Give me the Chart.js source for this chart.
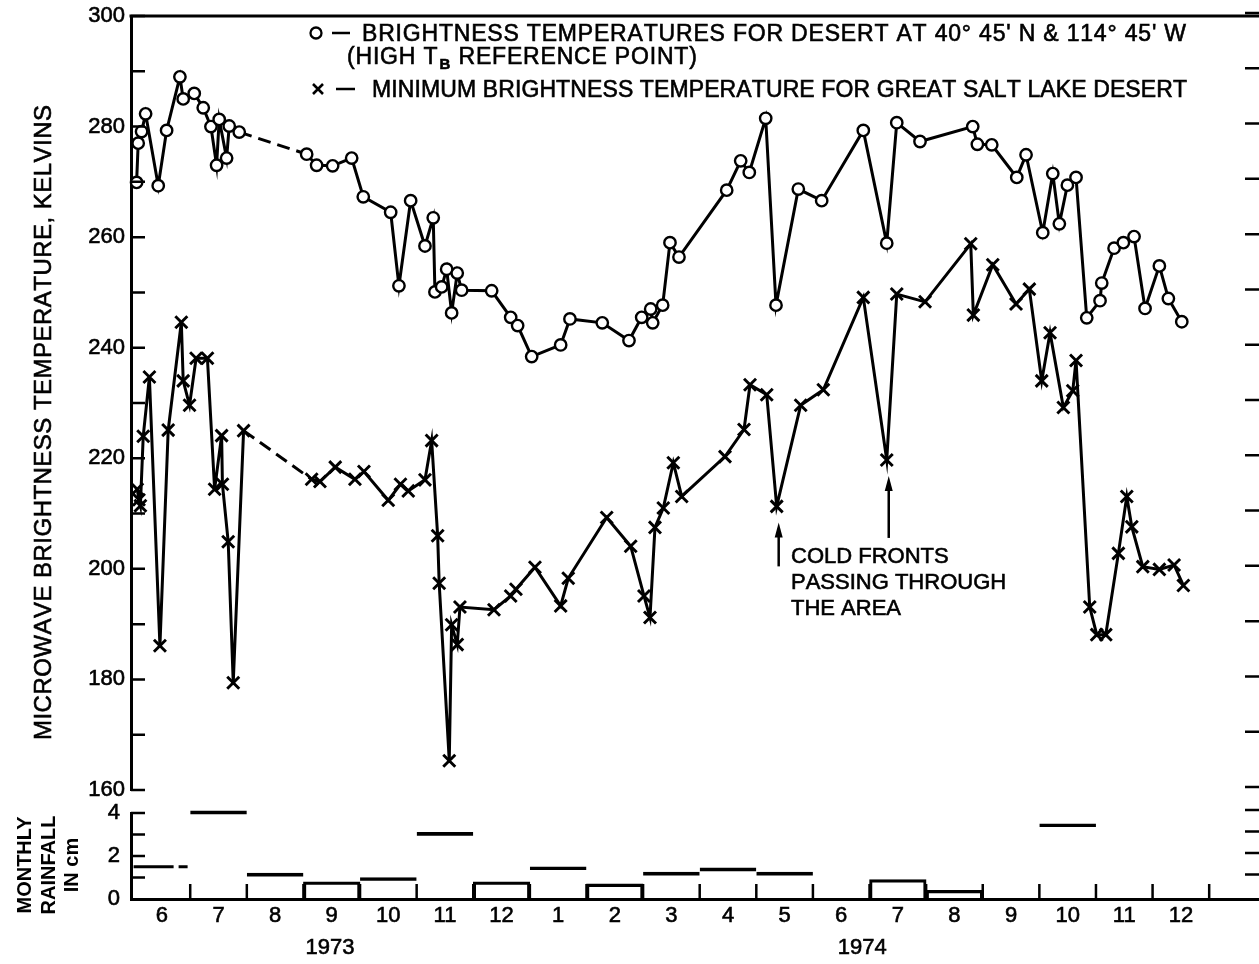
<!DOCTYPE html>
<html>
<head>
<meta charset="utf-8">
<script src="https://cdn.jsdelivr.net/npm/chart.js@4/dist/chart.umd.min.js"></script>
<style>
  html, body { margin: 0; padding: 0; background: #fff; overflow: hidden; }
  #wrap { position: relative; width: 1259px; height: 964px; }
  canvas { position: absolute; left: 0; }
  #main { top: 0; }
  #rain { top: 800px; }
</style>
</head>
<body>
<div id="wrap">
  <canvas id="main" width="1259" height="800"></canvas>
  <canvas id="rain" width="1259" height="164"></canvas>
</div>
<script>
// Time axis in months: 0 = 1 June 1973, one unit per month.

// High-TB reference point (desert at 40°45' N, 114°45' W)
const refMonth = [0.053, 0.081, 0.141, 0.212, 0.435, 0.583, 0.818, 0.876, 1.071, 1.230,
  1.366, 1.466, 1.512, 1.643, 1.689, 1.866, 3.057, 3.233, 3.516, 3.852,
  4.057, 4.541, 4.687, 4.894, 5.147, 5.293, 5.323, 5.442, 5.530, 5.618,
  5.717, 5.795, 6.325, 6.661, 6.784, 7.032, 7.544, 7.708, 8.279, 8.751,
  8.975, 9.134, 9.170, 9.346, 9.475, 9.634, 10.477, 10.724, 10.876, 11.166,
  11.348, 11.742, 12.155, 12.890, 13.304, 13.481, 13.892, 14.823, 14.905, 15.159,
  15.601, 15.765, 16.060, 16.237, 16.353, 16.495, 16.648, 16.837, 17.072, 17.102,
  17.320, 17.484, 17.673, 17.867, 18.120, 18.279, 18.516];
const refTemp = [269.9, 277, 279.1, 282.3, 269.3, 279.3, 289, 285, 286, 283.4,
  280, 273, 281.3, 274.3, 280.1, 279, 275, 273, 272.9, 274.3,
  267.3, 264.5, 251.2, 266.6, 258.4, 263.5, 250.1, 251, 254.2, 246.3,
  253.5, 250.4, 250.3, 245.5, 244, 238.4, 240.5, 245.2, 244.5, 241.3,
  245.5, 247, 244.5, 247.7, 259, 256.4, 268.5, 273.8, 271.7, 281.5,
  247.7, 268.7, 266.6, 279.3, 258.9, 280.7, 277.3, 280, 276.8, 276.7,
  270.8, 274.9, 260.8, 271.5, 262.4, 269.4, 270.8, 245.4, 248.5, 251.7,
  258, 259, 260.1, 247.1, 254.8, 248.9, 244.7];

// Minimum brightness temperature, Great Salt Lake Desert
const minMonth = [0.064, 0.094, 0.120, 0.170, 0.279, 0.465, 0.611, 0.843, 0.876, 0.988,
  1.104, 1.304, 1.431, 1.555, 1.569, 1.671, 1.760, 1.943, 3.145, 3.292,
  3.562, 3.910, 4.069, 4.498, 4.714, 4.852, 5.147, 5.265, 5.371, 5.398,
  5.576, 5.618, 5.717, 5.765, 6.366, 6.661, 6.754, 7.090, 7.544, 7.678,
  8.357, 8.781, 9.016, 9.122, 9.210, 9.357, 9.534, 9.682, 10.447, 10.783,
  10.889, 11.184, 11.360, 11.784, 12.184, 12.890, 13.304, 13.481, 13.981, 14.788,
  14.834, 15.177, 15.588, 15.823, 16.042, 16.189, 16.424, 16.590, 16.648, 16.890,
  17.014, 17.173, 17.396, 17.544, 17.633, 17.827, 18.120, 18.380, 18.544];
const minTemp = [214.4, 212.5, 211.4, 224, 234.7, 186.1, 225.1, 244.6, 234, 229.6,
  238.1, 238.1, 214.4, 224.1, 215.3, 204.9, 179.4, 225, 216.2, 215.8,
  218.4, 216.2, 217.6, 212.4, 215.3, 214.1, 216.1, 223.2, 206, 197.4,
  165.3, 189.9, 186.3, 193.1, 192.6, 195.1, 196.3, 200.3, 193.3, 198.3,
  209.3, 204.1, 195.1, 191.2, 207.5, 211, 219.2, 213.1, 220.3, 225.2,
  233.3, 231.5, 211.3, 229.6, 232.4, 249.1, 219.7, 249.7, 248.3, 258.8,
  245.9, 255, 247.9, 250.6, 234, 242.7, 229.2, 232.2, 237.7, 193.1,
  188.1, 188.1, 202.8, 213.1, 207.6, 200.4, 199.9, 200.7, 197];

// Points marked as cold-front passages (indices into the minimum series)
const coldFrontIdx = [52, 56];
const coldFrontText = ['COLD FRONTS', 'PASSING THROUGH', 'THE AREA'];

// Monthly rainfall, June 1973 - December 1974
const monthLabels = ['6', '7', '8', '9', '10', '11', '12', '1', '2', '3', '4', '5', '6', '7', '8', '9', '10', '11', '12'];
const rainCm = [1.5, 4.1, 1.2, 0.8, 1.0, 3.1, 0.8, 1.5, 0.7, 1.25, 1.45, 1.25, 0, 0.9, 0.4, 0, 3.5, 0, 0];
const rainStyle = ['dash', 'line', 'line', 'box', 'line', 'line', 'box', 'line', 'box', 'line', 'line', 'line',
  'none', 'box', 'box', 'none', 'line', 'none', 'none'];
const yearLabels = ['1973', '1974'];
const yearCentre = [3.47, 12.87];

const tempLabelTicks = [160, 180, 200, 220, 240, 260, 280, 300];
const rainLabelTicks = [0, 2, 4];

const legendText = [
  'BRIGHTNESS TEMPERATURES FOR DESERT AT 40° 45\' N & 114° 45\' W',
  '(HIGH T', 'B', ' REFERENCE POINT)',
  'MINIMUM BRIGHTNESS TEMPERATURE FOR GREAT SALT LAKE DESERT'
];
const yTitle = 'MICROWAVE BRIGHTNESS TEMPERATURE, KELVINS';
const rainTitle = ['MONTHLY', 'RAINFALL', 'IN cm'];

const X_MIN = -0.046, X_MAX = 19.88;
const FAMILY = '"Liberation Sans", Arial, Helvetica, sans-serif';
const INK = '#000';
const TEXT_STROKE = 0.6;

// Draw text one glyph at a time with an extra gap between glyphs; returns end x.
function runText(ctx, text, x, y, gap) {
  let cx = x;
  ctx.lineWidth = TEXT_STROKE;
  for (const ch of text) {
    ctx.fillText(ch, cx, y);
    ctx.strokeText(ch, cx, y);
    cx += ctx.measureText(ch).width + gap;
  }
  return cx - gap;
}
function gapFor(ctx, text, width) {
  const chars = [...text];
  const total = chars.reduce((s, c) => s + ctx.measureText(c).width, 0);
  return chars.length > 1 ? (width - total) / (chars.length - 1) : 0;
}
// keep the plot area exactly where the layout padding puts it
function noLabelPadding(s) {
  s.paddingTop = 0; s.paddingBottom = 0; s.paddingLeft = 0; s.paddingRight = 0;
}

const mainDecor = {
  id: 'mainDecor',
  afterDraw(chart) {
    const { ctx, chartArea: a, scales: { x, y } } = chart;
    ctx.save();
    ctx.strokeStyle = INK;
    ctx.fillStyle = INK;

    // top frame line
    ctx.lineWidth = 3;
    ctx.beginPath();
    ctx.moveTo(a.left - 1.5, a.top);
    ctx.lineTo(a.right, a.top);
    ctx.stroke();

    // inward ticks every 10 K, both sides
    ctx.lineWidth = 2.5;
    for (let v = 160; v <= 300; v += 10) {
      const py = y.getPixelForValue(v);
      ctx.beginPath();
      ctx.moveTo(a.left, py); ctx.lineTo(a.left + 14, py);
      ctx.moveTo(a.right - 14, py - 3); ctx.lineTo(a.right, py - 3);
      ctx.stroke();
    }

    // y-axis title
    ctx.font = '24px ' + FAMILY;
    ctx.textBaseline = 'alphabetic';
    ctx.textAlign = 'left';
    ctx.save();
    ctx.translate(51, 740);
    ctx.rotate(-Math.PI / 2);
    runText(ctx, yTitle, 0, 0, gapFor(ctx, yTitle, 635));
    ctx.restore();

    // legend
    ctx.font = '23px ' + FAMILY;
    const g = gapFor(ctx, legendText[0], 824);
    ctx.lineWidth = 2.3;
    ctx.beginPath(); ctx.arc(316, 33, 5.5, 0, Math.PI * 2); ctx.stroke();
    ctx.lineWidth = 2.5;
    ctx.beginPath(); ctx.moveTo(332, 33); ctx.lineTo(350, 33); ctx.stroke();
    runText(ctx, legendText[0], 362, 41, g);

    let ex = runText(ctx, legendText[1], 347, 64, g);
    ctx.font = 'bold 15px ' + FAMILY;
    ex = runText(ctx, legendText[2], ex + 2, 69, 0);
    ctx.font = '23px ' + FAMILY;
    runText(ctx, legendText[3], ex + 1, 64, g);

    ctx.lineWidth = 2.6;
    ctx.beginPath();
    ctx.moveTo(313, 84); ctx.lineTo(323, 94);
    ctx.moveTo(323, 84); ctx.lineTo(313, 94);
    ctx.stroke();
    ctx.lineWidth = 2.5;
    ctx.beginPath(); ctx.moveTo(336, 89); ctx.lineTo(355, 89); ctx.stroke();
    runText(ctx, legendText[4], 372, 97, gapFor(ctx, legendText[4], 815));

    // cold front arrows, pointing up at the marked points
    const lens = [44, 62];
    coldFrontIdx.forEach((idx, k) => {
      const px = x.getPixelForValue(minMonth[idx]) + 2;
      const tip = y.getPixelForValue(minTemp[idx]) + 16;
      ctx.lineWidth = 2.5;
      ctx.beginPath(); ctx.moveTo(px, tip + 10); ctx.lineTo(px, tip + lens[k]); ctx.stroke();
      ctx.beginPath();
      ctx.moveTo(px, tip); ctx.lineTo(px - 4, tip + 15); ctx.lineTo(px + 4, tip + 15);
      ctx.closePath(); ctx.fill();
    });
    ctx.font = '22px ' + FAMILY;
    coldFrontText.forEach((t, i) => runText(ctx, t, 791, 563 + i * 26, 0));
    ctx.restore();
  }
};

const gapDash = c => (c.p0.parsed.x < 2 && c.p1.parsed.x > 3) ? [13, 7] : undefined;
const tickFont = { family: FAMILY, size: 22 };

new Chart(document.getElementById('main'), {
  type: 'line',
  data: {
    datasets: [
      {
        data: refMonth.map((m, i) => ({ x: m, y: refTemp[i] })),
        borderColor: INK, borderWidth: 3,
        pointStyle: 'circle', pointRadius: 5.7, pointBorderWidth: 2.4,
        pointBackgroundColor: '#fff', pointBorderColor: INK,
        segment: { borderDash: gapDash }, clip: false
      },
      {
        data: minMonth.map((m, i) => ({ x: m, y: minTemp[i] })),
        borderColor: INK, borderWidth: 3,
        pointStyle: 'crossRot', pointRadius: 8.5, pointBorderWidth: 2.9,
        pointBorderColor: INK,
        segment: { borderDash: gapDash }, clip: false
      }
    ]
  },
  options: {
    responsive: false, animation: false, devicePixelRatio: 1,
    layout: { autoPadding: false, padding: { top: 16, bottom: 10, left: 0, right: 0 } },
    plugins: { legend: { display: false }, tooltip: { enabled: false } },
    scales: {
      x: { type: 'linear', min: X_MIN, max: X_MAX, display: false },
      y: {
        min: 160, max: 300,
        afterBuildTicks: s => { s.ticks = tempLabelTicks.map(v => ({ value: v })); },
        ticks: { color: INK, font: tickFont, padding: 6, textStrokeColor: INK, textStrokeWidth: TEXT_STROKE },
        grid: { display: false, drawTicks: false },
        border: { display: true, color: INK, width: 3 },
        afterFit: s => { s.width = 131; noLabelPadding(s); }
      }
    }
  },
  plugins: [mainDecor]
});

const rainDecor = {
  id: 'rainDecor',
  afterDraw(chart) {
    const { ctx, chartArea: a, scales: { x, y } } = chart;
    ctx.save();
    ctx.strokeStyle = INK;
    ctx.fillStyle = INK;
    ctx.lineWidth = 2.5;
    // inward ticks on the rainfall axis
    for (let v = 1; v <= 4; v++) {
      const py = y.getPixelForValue(v);
      ctx.beginPath();
      ctx.moveTo(a.left, py); ctx.lineTo(a.left + 14, py);
      ctx.moveTo(a.right - 14, py - 3); ctx.lineTo(a.right, py - 3);
      ctx.stroke();
    }
    // month boundary ticks
    for (let m = 1; m <= monthLabels.length; m++) {
      const px = x.getPixelForValue(m);
      ctx.beginPath(); ctx.moveTo(px, a.bottom); ctx.lineTo(px, a.bottom - 15); ctx.stroke();
    }
    // year labels
    ctx.font = '22px ' + FAMILY;
    ctx.textAlign = 'left';
    ctx.textBaseline = 'middle';
    yearLabels.forEach((t, i) => {
      const w = ctx.measureText(t).width;
      runText(ctx, t, x.getPixelForValue(yearCentre[i]) - w / 2, 148, 0);
    });
    // rotated three-line title
    ctx.font = 'bold 20px ' + FAMILY;
    ctx.textBaseline = 'alphabetic';
    ctx.textAlign = 'center';
    [31, 55, 78].forEach((bx, i) => {
      ctx.save();
      ctx.translate(bx, 65);
      ctx.rotate(-Math.PI / 2);
      ctx.fillText(rainTitle[i], 0, 0);
      ctx.restore();
    });
    ctx.restore();
  }
};

const barBorder = c => {
  const s = rainStyle[c.dataIndex];
  if (s === 'box') return { top: 2.6, left: 2.4, right: 2.4, bottom: 0 };
  if (s === 'line') return { top: 3, left: 0, right: 0, bottom: 0 };
  return 0;
};

new Chart(document.getElementById('rain'), {
  data: {
    datasets: [
      {
        type: 'line',
        data: rainStyle.flatMap((s, i) => s === 'dash' ? [{ x: i, y: rainCm[i] }, { x: i + 1, y: rainCm[i] }] : []),
        borderColor: INK, borderWidth: 3, borderDash: [40, 5, 9, 5], pointRadius: 0, clip: false
      },
      {
        type: 'bar',
        data: rainCm.map((v, i) => ({ x: i + 0.5, y: v })),
        backgroundColor: 'rgba(0,0,0,0)', borderColor: INK,
        borderWidth: barBorder, borderSkipped: false,
        barPercentage: 1, categoryPercentage: 1, clip: false
      }
    ]
  },
  options: {
    responsive: false, animation: false, devicePixelRatio: 1,
    layout: { autoPadding: false, padding: { top: 13, bottom: 0, left: 0, right: 0 } },
    plugins: { legend: { display: false }, tooltip: { enabled: false } },
    scales: {
      x: {
        type: 'linear', min: X_MIN, max: X_MAX, offset: false,
        afterBuildTicks: s => { s.ticks = monthLabels.map((_, i) => ({ value: i + 0.5 })); },
        ticks: { callback: (v, i) => monthLabels[i], color: INK, font: tickFont,
                 padding: 4, maxRotation: 0, autoSkip: false, textStrokeColor: INK, textStrokeWidth: TEXT_STROKE },
        grid: { display: false, drawTicks: false, offset: false },
        border: { display: true, color: INK, width: 3 },
        afterFit: s => { s.height = 65; noLabelPadding(s); }
      },
      y: {
        min: 0, max: 4,
        afterBuildTicks: s => { s.ticks = rainLabelTicks.map(v => ({ value: v })); },
        ticks: { color: INK, font: tickFont, padding: 11, textStrokeColor: INK, textStrokeWidth: TEXT_STROKE },
        grid: { display: false, drawTicks: false },
        border: { display: true, color: INK, width: 3 },
        afterFit: s => { s.width = 131; noLabelPadding(s); }
      }
    }
  },
  plugins: [rainDecor]
});
</script>
</body>
</html>
